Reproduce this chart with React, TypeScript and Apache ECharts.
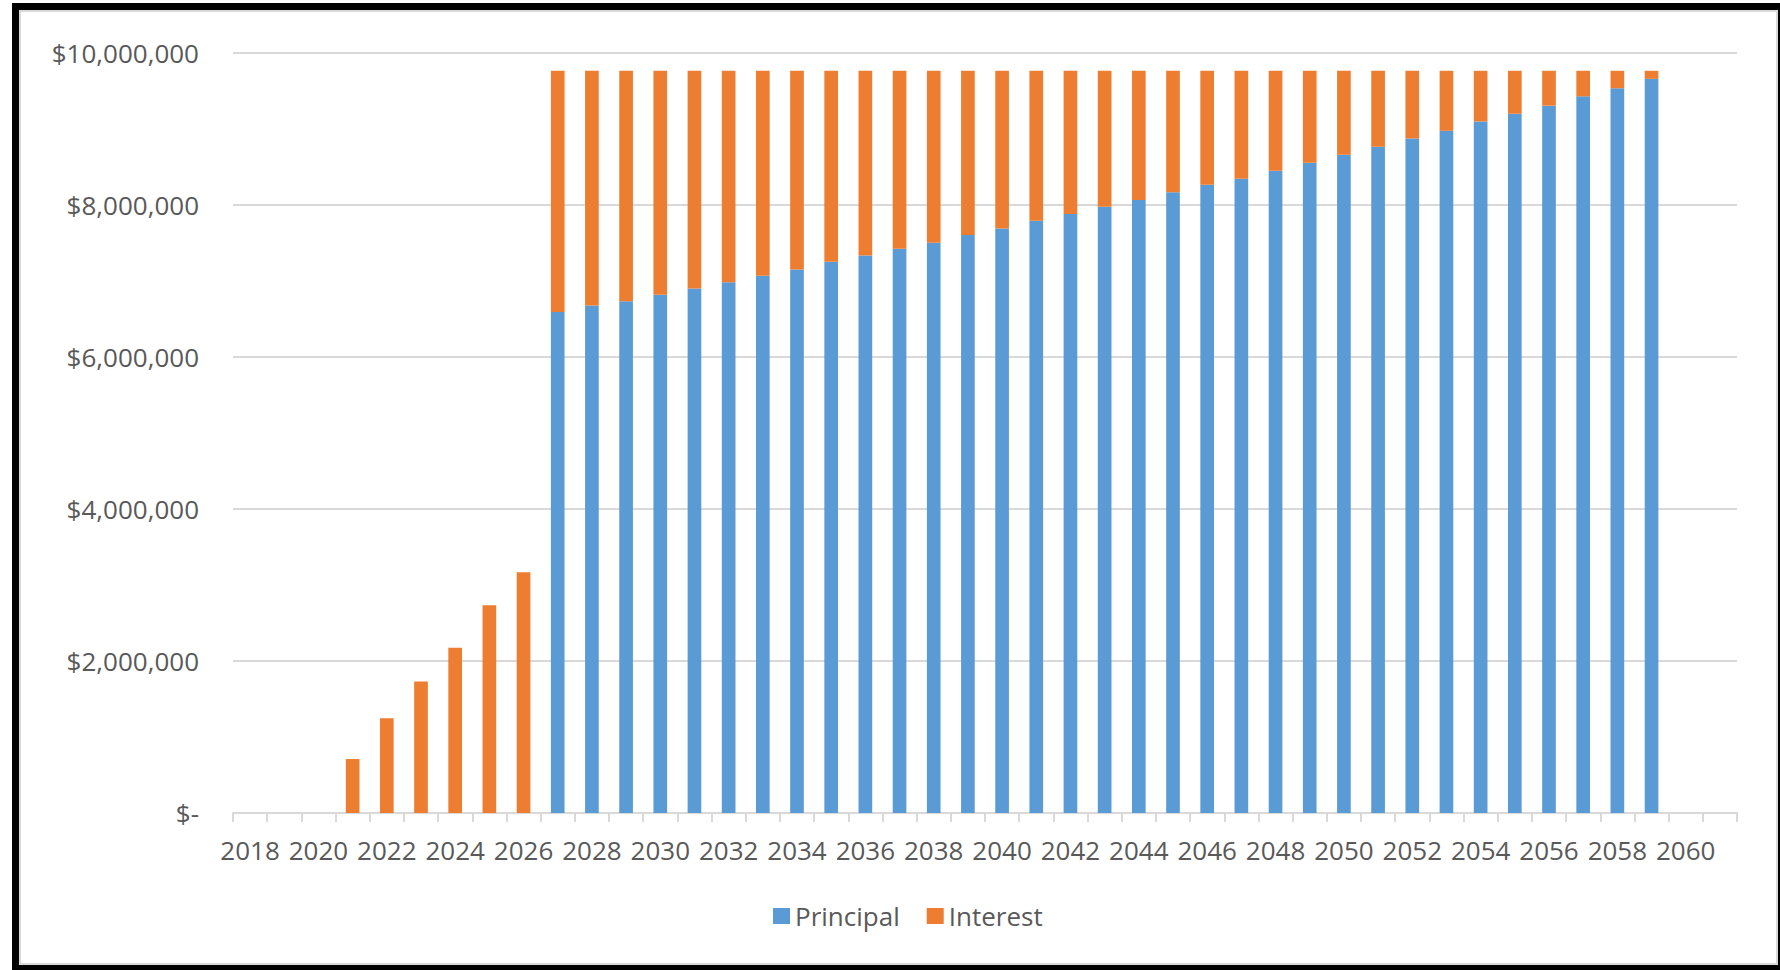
import React, { useEffect, useRef } from "react";
import * as echarts from "echarts";

const years: string[] = [
  "2018", "2019", "2020", "2021", "2022", "2023", "2024", "2025", "2026", "2027",
  "2028", "2029", "2030", "2031", "2032", "2033", "2034", "2035", "2036", "2037",
  "2038", "2039", "2040", "2041", "2042", "2043", "2044", "2045", "2046", "2047",
  "2048", "2049", "2050", "2051", "2052", "2053", "2054", "2055", "2056", "2057",
  "2058", "2059", "2060", "2061",
];

const principal: number[] = [
  0, 0, 0, 0, 0, 0, 0, 0, 0,
  6593000, 6677000, 6734000, 6818000, 6901000, 6985000, 7068000, 7152000, 7253000, 7336000,
  7424000, 7503000, 7604000, 7692000, 7793000, 7881000, 7978000, 8066000, 8167000, 8265000,
  8344000, 8450000, 8556000, 8662000, 8768000, 8874000, 8976000, 9099000, 9201000, 9307000,
  9430000, 9536000, 9660000,
  0, 0,
];

const interest: number[] = [
  0, 0, 0, 710000, 1247000, 1729000, 2175000, 2735000, 3168000,
  3173000, 3089000, 3032000, 2948000, 2865000, 2781000, 2698000, 2614000, 2513000, 2430000,
  2342000, 2263000, 2162000, 2074000, 1973000, 1885000, 1788000, 1700000, 1599000, 1501000,
  1422000, 1316000, 1210000, 1104000, 998000, 892000, 790000, 667000, 565000, 459000,
  336000, 230000, 106000,
  0, 0,
];

const seriesNames: string[] = ["Principal", "Interest"];
const seriesColors: string[] = ["#5B9BD5", "#ED7D31"];

const FONT = "'Open Sans', 'Noto Sans', sans-serif";
const TEXT = "#595959";
const GRID = "#d9d9d9";

export default function App() {
  const ref = useRef<HTMLDivElement | null>(null);

  useEffect(() => {
    if (!ref.current) return;
    const chart = echarts.init(ref.current, null, { renderer: "svg" });
    chart.setOption({
      animation: false,
      graphic: [
        {
          type: "rect",
          z: -100,
          silent: true,
          shape: { x: 12, y: 3, width: 1800, height: 1000 },
          style: { fill: "#000000" },
        },
        {
          type: "rect",
          z: -99,
          silent: true,
          shape: { x: 20, y: 11, width: 1757, height: 953 },
          style: { fill: "#ffffff", stroke: "#d9d9d9", lineWidth: 2 },
        },
      ],
      grid: { left: 233, right: 43, top: 53, bottom: 157, containLabel: false },
      legend: {
        data: seriesNames,
        left: 773,
        top: 903,
        padding: 0,
        icon: "rect",
        itemWidth: 17,
        itemHeight: 16,
        itemGap: 27,
        textStyle: { fontSize: 26, color: TEXT, fontFamily: FONT },
      },
      xAxis: {
        type: "category",
        data: years,
        boundaryGap: true,
        axisLine: { show: true, lineStyle: { color: GRID, width: 2 } },
        axisTick: {
          show: true,
          interval: 0,
          alignWithLabel: false,
          length: 9,
          lineStyle: { color: GRID, width: 2 },
        },
        axisLabel: {
          interval: 1,
          color: TEXT,
          fontSize: 26,
          fontFamily: FONT,
          margin: 24,
        },
      },
      yAxis: {
        type: "value",
        min: 0,
        max: 10000000,
        interval: 2000000,
        axisLine: { show: false },
        axisTick: { show: false },
        splitLine: { show: true, lineStyle: { color: GRID, width: 2 } },
        axisLabel: {
          color: TEXT,
          fontSize: 26,
          fontFamily: FONT,
          margin: 34,
          formatter: (v: number) =>
            v === 0 ? "$-" : "$" + v.toLocaleString("en-US"),
        },
      },
      series: [
        {
          name: seriesNames[0],
          type: "bar",
          stack: "total",
          barWidth: "40%",
          itemStyle: { color: seriesColors[0] },
          data: principal,
        },
        {
          name: seriesNames[1],
          type: "bar",
          stack: "total",
          barWidth: "40%",
          itemStyle: { color: seriesColors[1] },
          data: interest,
        },
      ],
    });
    return () => chart.dispose();
  }, []);

  return (
    <div
      ref={ref}
      style={{ position: "fixed", left: 0, top: 0, width: 1780, height: 970, background: "#ffffff" }}
    />
  );
}
